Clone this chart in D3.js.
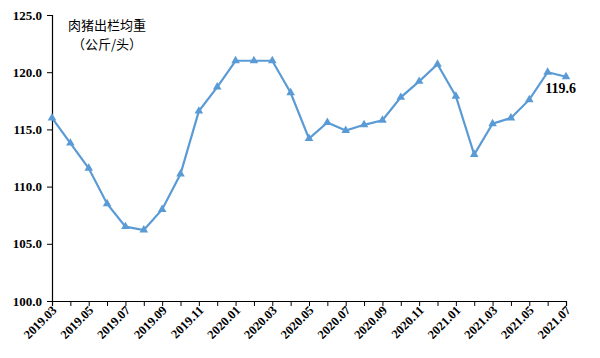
<!DOCTYPE html>
<html><head><meta charset="utf-8">
<script src="https://cdn.jsdelivr.net/npm/d3@7"></script>
<style>body{margin:0;background:#fff}</style>
</head><body>
<svg id="c" width="600" height="358"></svg>
<script>
const months = ["2019.03","2019.04","2019.05","2019.06","2019.07","2019.08","2019.09","2019.10","2019.11","2019.12",
"2020.01","2020.02","2020.03","2020.04","2020.05","2020.06","2020.07","2020.08","2020.09","2020.10","2020.11","2020.12",
"2021.01","2021.02","2021.03","2021.04","2021.05","2021.06","2021.07"];
const weights = [116.0,113.8,111.6,108.5,106.5,106.2,108.0,111.1,116.6,118.7,
121.0,121.0,121.0,118.2,114.2,115.6,114.9,115.4,115.8,117.8,119.2,120.7,
117.9,112.8,115.5,116.0,117.6,120.0,119.6];
const yTicks = [100,105,110,115,120,125];
const titleLines = ["肉猪出栏均重","（公斤/头）"];

const svg = d3.select("#c");
const m = {l:52, r:34, t:15, b:57};
const W = 600, H = 358;
const x = d3.scalePoint().domain(months).range([m.l, W - m.r]);
const y = d3.scaleLinear().domain([100,125]).range([H - m.b, m.t]);

const serif = "'Liberation Serif','Times New Roman',serif";

// y axis
const ya = svg.append("g").attr("transform",`translate(${m.l},0)`)
  .call(d3.axisLeft(y).tickValues(yTicks).tickFormat(d3.format(".1f")).tickSize(5));
ya.select(".domain").attr("stroke","#000").attr("stroke-width",1.2);
ya.selectAll("text").attr("font-family",serif).attr("font-weight","bold").attr("font-size",13).attr("fill","#000").attr("x",-10);

// x axis
const xa = svg.append("g").attr("transform",`translate(0,${y(100)})`)
  .call(d3.axisBottom(x).tickSize(5).tickFormat((d,i)=> i%2===0 ? d : ""));
xa.select(".domain").attr("stroke","#000").attr("stroke-width",1.2);
xa.selectAll("line").attr("stroke","#000");
xa.selectAll("text").attr("font-family",serif).attr("font-weight","bold").attr("font-size",12.5).attr("fill","#000")
  .attr("text-anchor","end").attr("dy",0).attr("y",0)
  .attr("transform","translate(5,10) rotate(-45)");

// line
const data = months.map((mo,i)=>({mo, v:weights[i]}));
svg.append("path").datum(data)
  .attr("fill","none").attr("stroke","#5B9BD5").attr("stroke-width",2.2)
  .attr("d", d3.line().x(d=>x(d.mo)).y(d=>y(d.v)));
svg.selectAll(".pt").data(data).enter().append("path")
  .attr("transform", d=>`translate(${x(d.mo)},${y(d.v)})`)
  .attr("d", d3.symbol().type(d3.symbolTriangle).size(32))
  .attr("fill","#5B9BD5");

// annotation
const last = data[data.length-1];
svg.append("text").attr("x", x(last.mo)+10).attr("y", y(last.v)+16)
  .attr("text-anchor","end").attr("font-family",serif).attr("font-weight","bold").attr("font-size",14)
  .attr("fill","#000").text(d3.format(".1f")(last.v));

// title
svg.selectAll(".tl").data(titleLines).enter().append("text")
  .attr("x", 107).attr("y",(d,i)=>30 + i*19).attr("text-anchor","middle")
  .attr("font-family","'Noto Sans CJK SC',sans-serif").attr("font-size",13).attr("fill","#000")
  .text(d=>d);
</script>
</body></html>
